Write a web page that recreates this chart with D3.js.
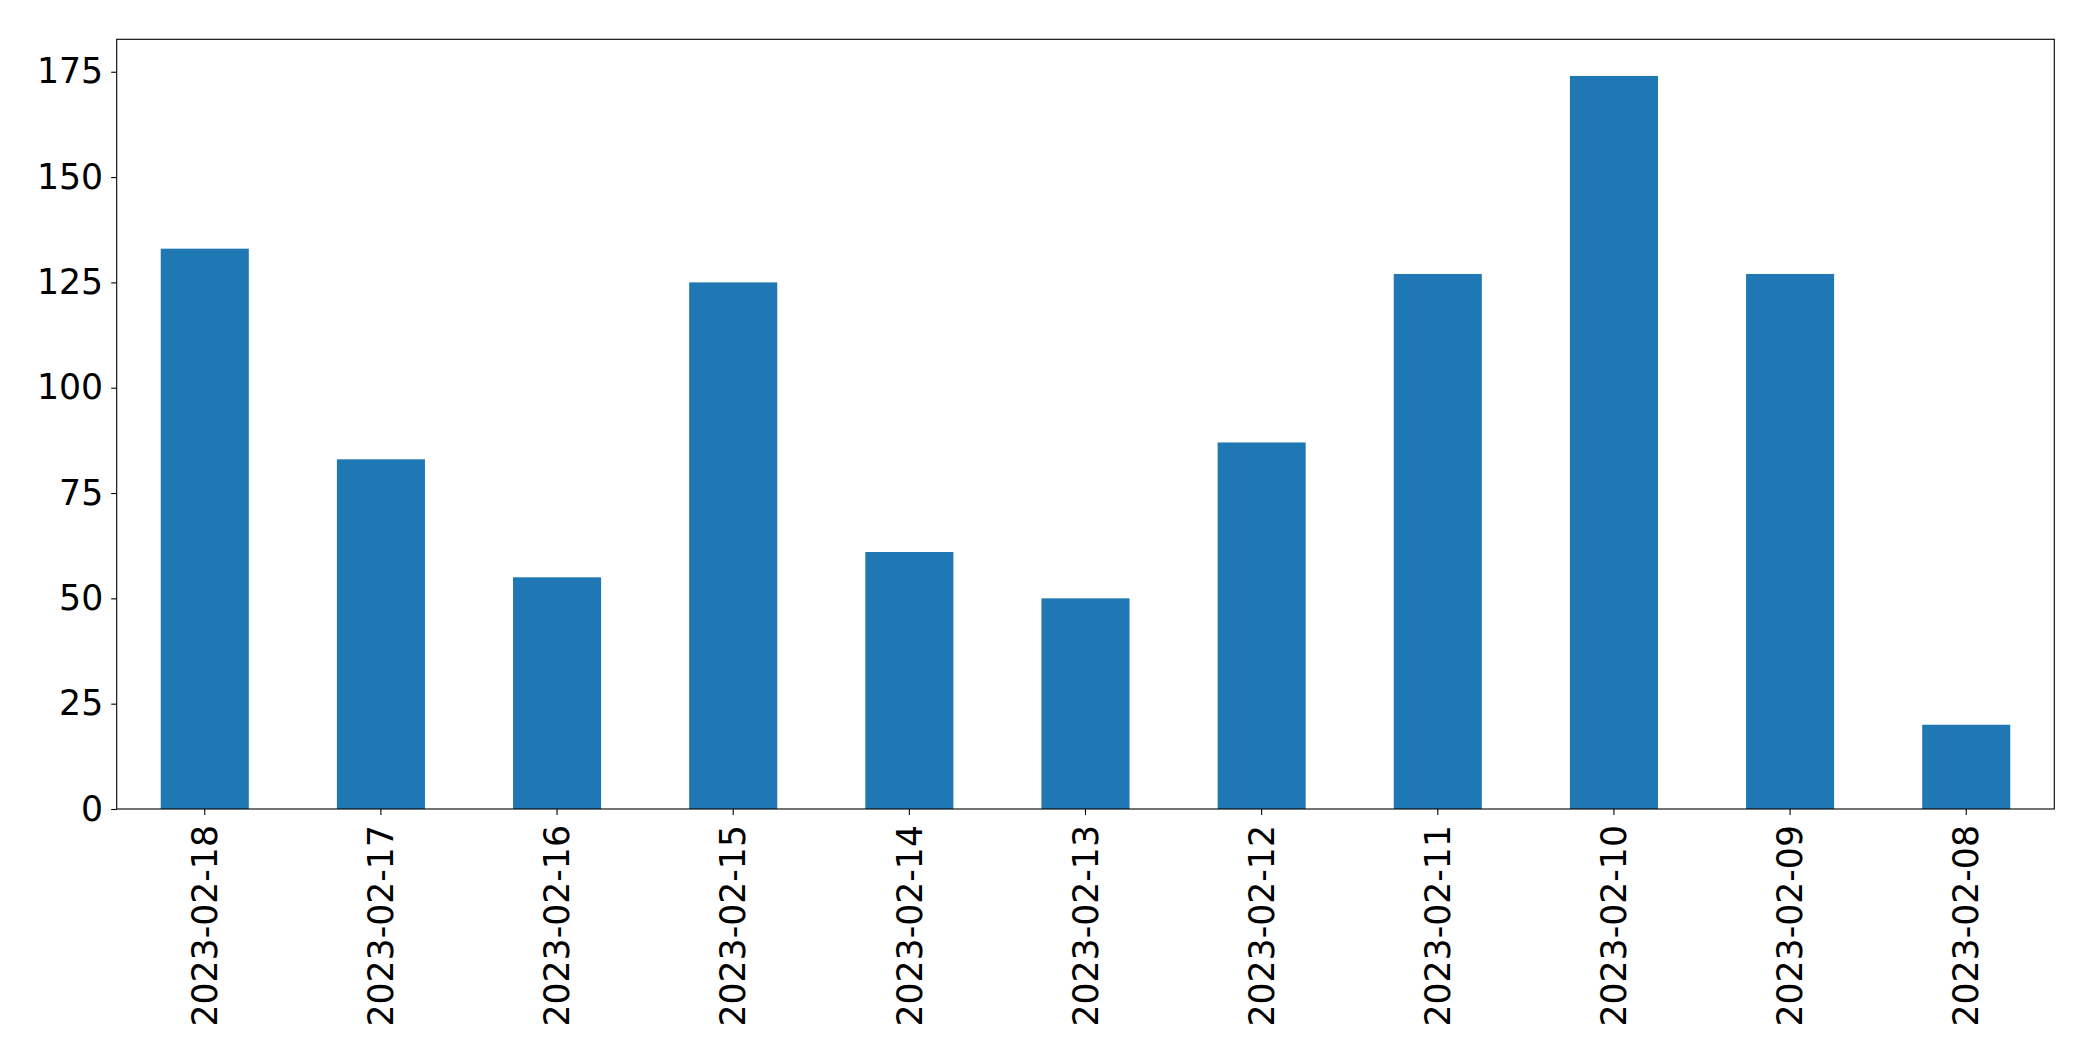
<!DOCTYPE html>
<html>
<head>
<meta charset="utf-8">
<script src="https://cdn.jsdelivr.net/npm/d3@7"></script>
<style>
  html, body { margin: 0; padding: 0; background: #fff; }
  svg { display: block; }
  text { font-family: "DejaVu Sans", sans-serif; fill: #000; }
</style>
</head>
<body>
<svg id="chart" width="2093" height="1061"></svg>
<script>
const categories = ["2023-02-18","2023-02-17","2023-02-16","2023-02-15","2023-02-14","2023-02-13","2023-02-12","2023-02-11","2023-02-10","2023-02-09","2023-02-08"];
const values = [133, 83, 55, 125, 61, 50, 87, 127, 174, 127, 20];
const yTicks = [0, 25, 50, 75, 100, 125, 150, 175];

const W = 2093, H = 1061;
const margin = { left: 116.7, right: W - 2054.3, top: 39.3, bottom: H - 809 };
const innerW = W - margin.left - margin.right;
const innerH = H - margin.top - margin.bottom;

const svg = d3.select("#chart");
const g = svg.append("g").attr("transform", `translate(${margin.left},${margin.top})`);

const x = d3.scaleBand().domain(categories).range([0, innerW]).paddingInner(0.5).paddingOuter(0.25);
const yMax = d3.max(values) * 1.05;
const y = d3.scaleLinear().domain([0, yMax]).range([innerH, 0]);

g.selectAll("rect.bar").data(values).enter().append("rect")
  .attr("class", "bar")
  .attr("x", (d, i) => x(categories[i]))
  .attr("y", d => y(d))
  .attr("width", x.bandwidth())
  .attr("height", d => innerH - y(d))
  .attr("fill", "#1f77b4");

const fontSize = 34.7;

// Y axis
const yAxis = g.append("g").call(d3.axisLeft(y).tickValues(yTicks).tickSize(5.5).tickPadding(8).tickFormat(d3.format("d")));
yAxis.select(".domain").remove();
yAxis.selectAll(".tick line").attr("stroke", "#000").attr("stroke-width", 1.1);
yAxis.selectAll(".tick text").attr("font-size", fontSize).attr("font-family", "DejaVu Sans").attr("fill", "#000");

// X axis
const xAxis = g.append("g").attr("transform", `translate(0,${innerH})`)
  .call(d3.axisBottom(x).tickSize(6).tickPadding(0));
xAxis.select(".domain").remove();
xAxis.selectAll(".tick line").attr("stroke", "#000").attr("stroke-width", 1.1);
xAxis.selectAll(".tick text")
  .attr("font-size", fontSize)
  .attr("font-family", "DejaVu Sans")
  .attr("fill", "#000")
  .attr("text-anchor", "end")
  .attr("transform", "translate(0,16) rotate(-90)")
  .attr("x", 0).attr("y", 0).attr("dy", "0.35em");

// frame
g.append("rect").attr("x", 0).attr("y", 0).attr("width", innerW).attr("height", innerH)
  .attr("fill", "none").attr("stroke", "#000").attr("stroke-width", 1.1);
</script>
</body>
</html>
